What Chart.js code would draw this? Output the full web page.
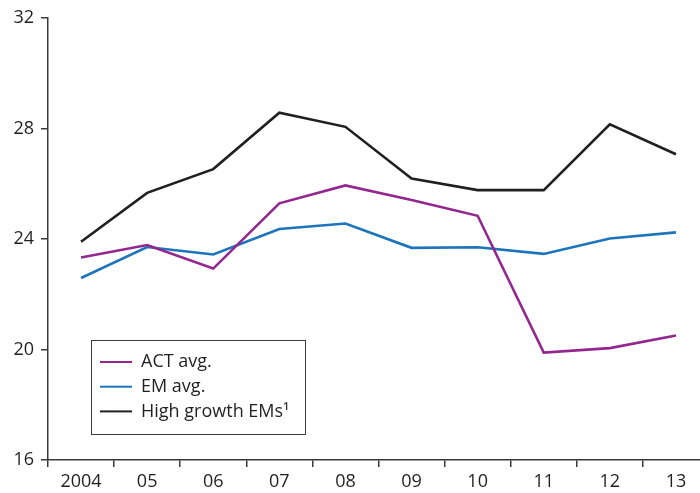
<!DOCTYPE html>
<html>
<head>
<meta charset="utf-8">
<script src="https://cdn.jsdelivr.net/npm/chart.js@4"></script>
<style>
  html, body { margin: 0; padding: 0; background: #fff; overflow: hidden; }
  #wrap { position: relative; width: 709px; height: 493px; }
</style>
</head>
<body>
<div id="wrap"><canvas id="chart"></canvas></div>
<script>
const years = ['2004', '05', '06', '07', '08', '09', '10', '11', '12', '13'];
const actAvg = [23.33, 23.78, 22.93, 25.29, 25.94, 25.41, 24.84, 19.89, 20.05, 20.51];
const emAvg = [22.59, 23.71, 23.44, 24.36, 24.56, 23.68, 23.70, 23.46, 24.02, 24.24];
const highGrowth = [23.90, 25.67, 26.53, 28.57, 28.06, 26.19, 25.77, 25.77, 28.15, 27.07];
const yTicks = [16, 20, 24, 28, 32];

const font = '"Open Sans", Lato, sans-serif';
const axisColor = '#3a3a3a';

// legend box drawn inside the plot, like the original
const boxLegend = {
    id: 'boxLegend',
    afterDraw(chart) {
        const ctx = chart.ctx;
        const x = 91, y = 340, w = 214, h = 94;
        ctx.save();
        ctx.strokeStyle = '#3a3a3a';
        ctx.lineWidth = 1;
        ctx.strokeRect(x + 0.5, y + 0.5, w, h);
        ctx.font = '18px ' + font;
        ctx.textBaseline = 'middle';
        ctx.fillStyle = '#231f20';
        chart.data.datasets.forEach((ds, i) => {
            const ry = 362 + i * 24.7;
            ctx.strokeStyle = ds.borderColor;
            ctx.lineWidth = 2;
            ctx.beginPath();
            ctx.moveTo(100, ry);
            ctx.lineTo(132, ry);
            ctx.stroke();
            ctx.fillText(ds.label, 141, ry);
        });
        ctx.restore();
    }
};

new Chart(document.getElementById('chart'), {
    type: 'line',
    data: {
        labels: years,
        datasets: [
            { label: 'ACT avg.', data: actAvg, borderColor: '#93278f' },
            { label: 'EM avg.', data: emAvg, borderColor: '#1c75bc' },
            { label: 'High growth EMs\u00B9', data: highGrowth, borderColor: '#231f20' }
        ].map(d => Object.assign(d, { borderWidth: 2.6, pointRadius: 0, tension: 0, fill: false }))
    },
    options: {
        responsive: true,
        maintainAspectRatio: false,
        animation: false,
        layout: { padding: { top: 18, right: 0, left: 0, bottom: 0 } },
        plugins: { legend: { display: false }, tooltip: { enabled: false } },
        scales: {
            x: {
                offset: true,
                grid: { offset: true, drawOnChartArea: false, drawTicks: true, tickLength: 7, color: axisColor, lineWidth: 1.5 },
                border: { display: true, color: axisColor, width: 1.5 },
                ticks: { color: '#231f20', font: { family: font, size: 18 }, padding: 4, maxRotation: 0, autoSkip: false },
                afterFit: s => { s.height = 33; }
            },
            y: {
                min: 16,
                max: 32,
                afterBuildTicks: s => { s.ticks = yTicks.map(v => ({ value: v })); },
                grid: { drawOnChartArea: false, drawTicks: true, tickLength: 7, color: axisColor, lineWidth: 1.5 },
                border: { display: true, color: axisColor, width: 1.5 },
                ticks: { color: '#231f20', font: { family: font, size: 18 }, padding: 7 },
                afterFit: s => { s.width = 48; }
            }
        }
    },
    plugins: [boxLegend]
});
</script>
</body>
</html>
